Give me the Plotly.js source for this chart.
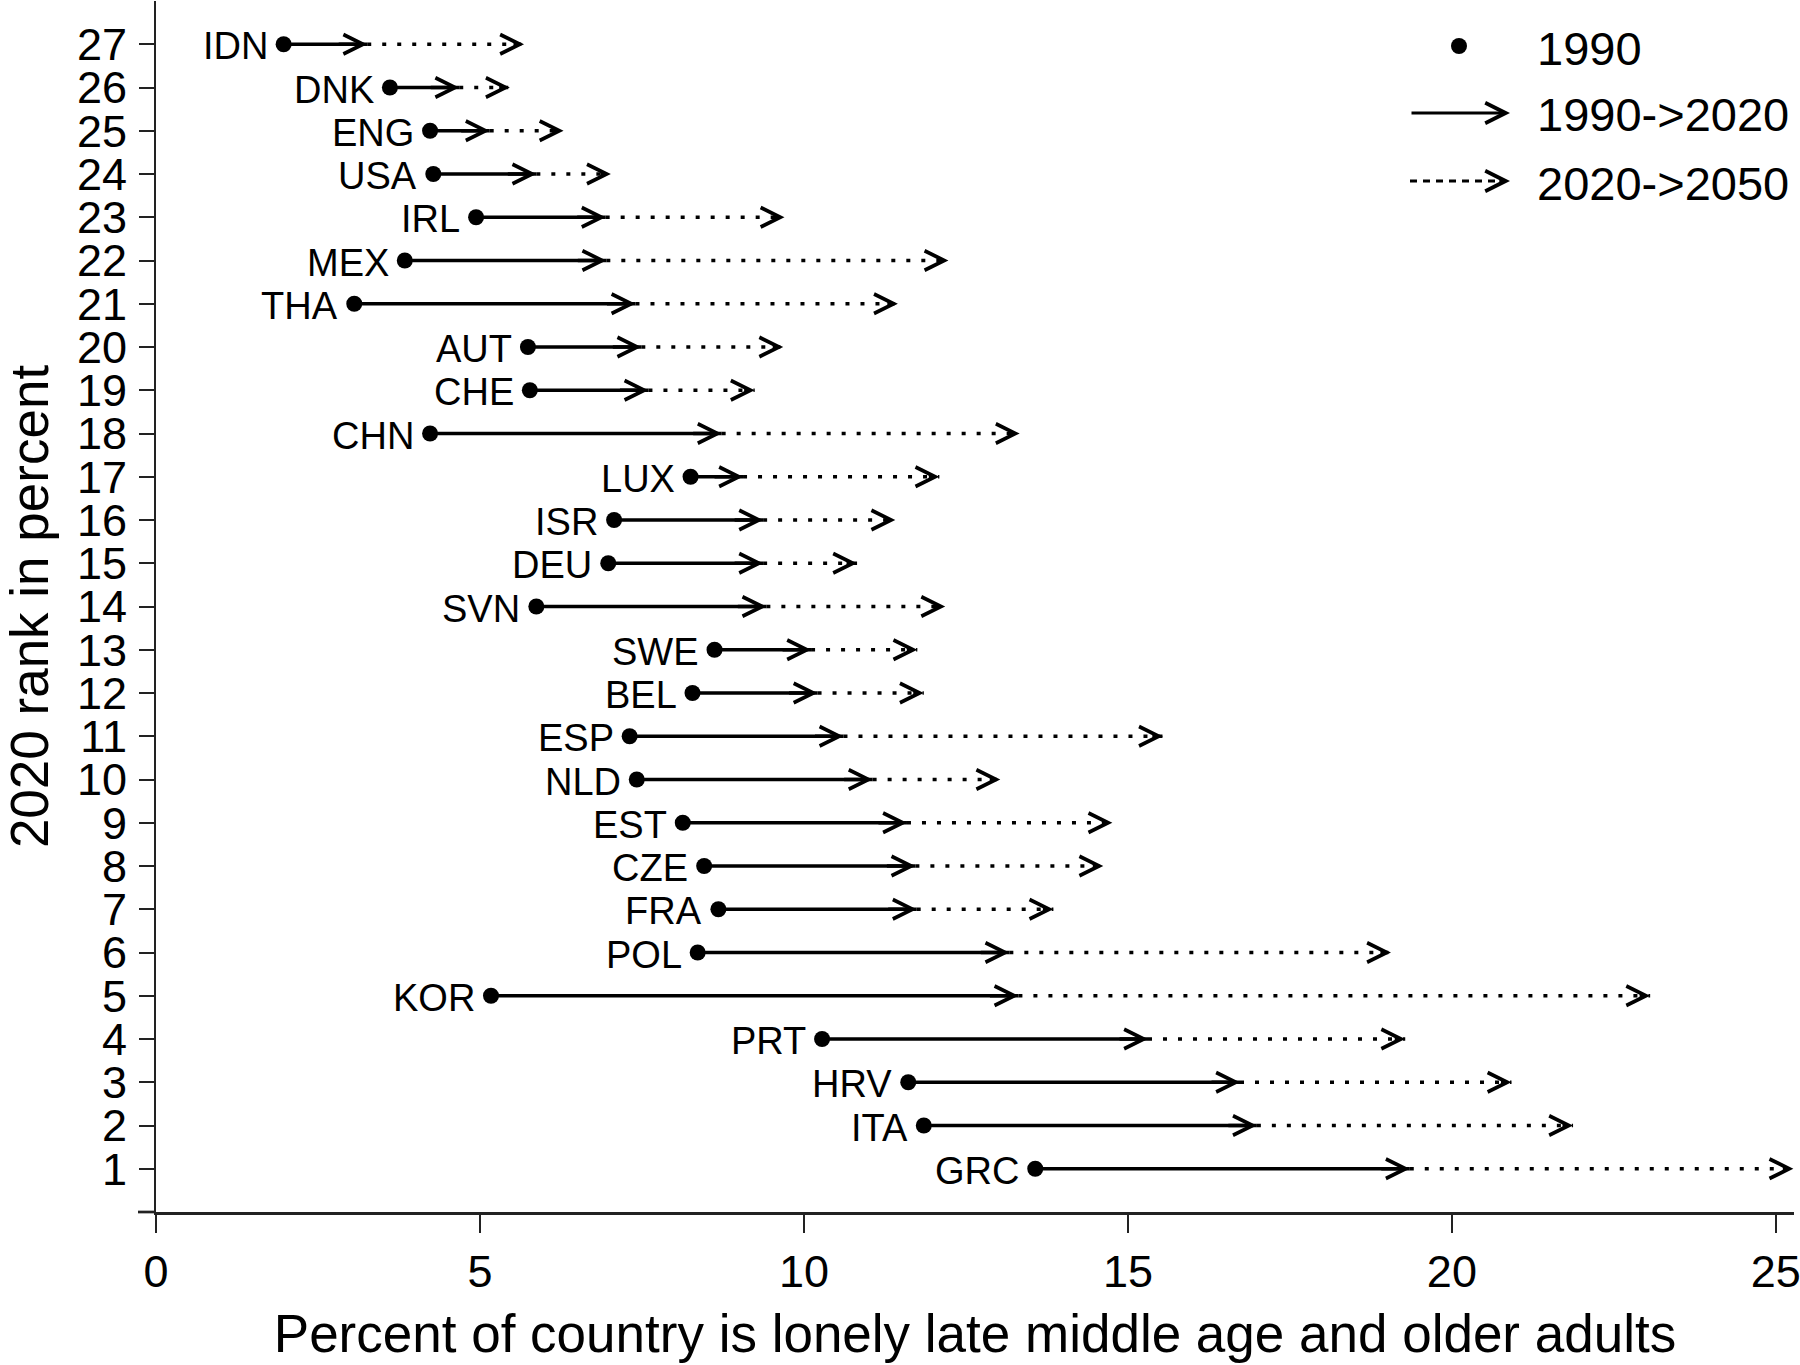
<!DOCTYPE html>
<html>
<head>
<meta charset="utf-8">
<script src="https://cdn.plot.ly/plotly-3.0.1.min.js"></script>
<style>html,body{margin:0;padding:0;background:#fff;}#chart{width:1800px;height:1365px;}</style>
</head>
<body>
<div id="chart"></div>
<script>
// ---- data (rank 27 -> 1) ----
const countries = ["IDN","DNK","ENG","USA","IRL","MEX","THA","AUT","CHE","CHN","LUX","ISR","DEU","SVN","SWE","BEL","ESP","NLD","EST","CZE","FRA","POL","KOR","PRT","HRV","ITA","GRC"];
const rank2020 = [27,26,25,24,23,22,21,20,19,18,17,16,15,14,13,12,11,10,9,8,7,6,5,4,3,2,1];
const pct1990 = [1.97,3.61,4.23,4.28,4.94,3.84,3.06,5.74,5.77,4.23,8.25,7.07,6.98,5.87,8.62,8.28,7.31,7.42,8.13,8.46,8.68,8.36,5.17,10.28,11.61,11.85,13.57];
const pct2020 = [3.26,4.68,5.15,5.87,6.94,6.95,7.40,7.49,7.60,8.73,9.06,9.37,9.37,9.42,10.11,10.21,10.61,11.06,11.59,11.72,11.74,13.17,13.31,15.31,16.73,16.99,19.35];
const pct2050 = [5.68,5.46,6.29,7.02,9.70,12.23,11.45,9.68,9.24,13.33,12.09,11.41,10.82,12.18,11.75,11.85,15.54,13.03,14.76,14.62,13.85,19.06,23.06,19.28,20.92,21.87,25.27];
const xTickVals = [0,5,10,15,20,25];
const legendLabels = ["1990","1990->2020","2020->2050"];

// ---- styling ----
const FONT = "Liberation Sans, Arial, Helvetica, sans-serif";
const L = 156, R = 6, T = 1, B = 153, W = 1800, H = 1365;
const PW = W - L - R, PH = H - T - B;
const px2paperX = p => (p - L) / PW;
const px2paperY = p => (H - B - p) / PH;

// segments built from arrays
function segs(a, b) {
  const xs = [], ys = [];
  for (let i = 0; i < a.length; i++) { xs.push(a[i], b[i], null); ys.push(rank2020[i], rank2020[i], null); }
  return {xs, ys};
}
const s1 = segs(pct1990, pct2020);
const s2 = segs(pct2020, pct2050);

const traces = [
  {x: s2.xs, y: s2.ys, mode: 'lines', line: {color: '#000', width: 3.5, dash: '4px,11px'}, hoverinfo: 'skip', name: legendLabels[2]},
  {x: s1.xs, y: s1.ys, mode: 'lines', line: {color: '#000', width: 3.5}, hoverinfo: 'skip', name: legendLabels[1]},
  {x: pct1990, y: rank2020, mode: 'markers', marker: {color: '#000', size: 16}, name: legendLabels[0], text: countries}
];

const annotations = [];
for (let i = 0; i < countries.length; i++) {
  annotations.push({x: pct1990[i], y: rank2020[i], xref: 'x', yref: 'y', text: countries[i], showarrow: false,
    xanchor: 'right', yanchor: 'middle', xshift: -14, yshift: -2, font: {family: FONT, size: 38, color: '#000'}});
  annotations.push({x: pct2020[i], y: rank2020[i], xref: 'x', yref: 'y', axref: 'pixel', ayref: 'pixel', ax: -30, ay: 0,
    text: '', showarrow: true, arrowhead: 5, arrowsize: 1.1, arrowwidth: 3.5, arrowcolor: '#000'});
  annotations.push({x: pct2050[i], y: rank2020[i], xref: 'x', yref: 'y', axref: 'pixel', ayref: 'pixel', ax: -12, ay: 0,
    text: '', showarrow: true, arrowhead: 5, arrowsize: 1.1, arrowwidth: 3.5, arrowcolor: '#000'});
}
// legend (manual, matching reference)
const legY = [46, 113, 181];
const legTextX = px2paperX(1535);
legendLabels.forEach((t, i) => {
  annotations.push({x: legTextX, y: px2paperY(legY[i]), xref: 'paper', yref: 'paper', text: t, showarrow: false,
    xanchor: 'left', yanchor: 'middle', yshift: -2, font: {family: FONT, size: 47, color: '#000'}});
});
annotations.push({x: px2paperX(1510), y: px2paperY(legY[1]), xref: 'paper', yref: 'paper', axref: 'pixel', ayref: 'pixel',
  ax: -100, ay: 0, text: '', showarrow: true, arrowhead: 5, arrowsize: 1.25, arrowwidth: 3.2, arrowcolor: '#000'});
annotations.push({x: px2paperX(1510), y: px2paperY(legY[2]), xref: 'paper', yref: 'paper', axref: 'pixel', ayref: 'pixel',
  ax: -12, ay: 0, text: '', showarrow: true, arrowhead: 5, arrowsize: 1.25, arrowwidth: 3.2, arrowcolor: '#000'});

const shapes = [
  {type: 'line', xref: 'paper', yref: 'paper', x0: -18 / PW, x1: 0, y0: 0, y1: 0, line: {color: '#222', width: 2.7}},
  {type: 'circle', xref: 'paper', yref: 'paper', xsizemode: 'pixel', ysizemode: 'pixel',
   xanchor: px2paperX(1459), yanchor: px2paperY(legY[0]), x0: -8, x1: 8, y0: -8, y1: 8,
   fillcolor: '#000', line: {color: '#000', width: 0}},
  {type: 'line', xref: 'paper', yref: 'paper', x0: px2paperX(1410), x1: px2paperX(1502), y0: px2paperY(legY[2]), y1: px2paperY(legY[2]),
   line: {color: '#000', width: 3.2, dash: '7px,6px'}}
];

const layout = {
  width: W, height: H,
  margin: {l: L, r: R, t: T, b: B, pad: 0},
  paper_bgcolor: '#fff', plot_bgcolor: '#fff',
  showlegend: false,
  font: {family: FONT, color: '#000'},
  xaxis: {
    range: [0, 25.28], tickvals: xTickVals, ticktext: xTickVals.map(String),
    showgrid: false, zeroline: false, showline: true, linecolor: '#222', linewidth: 2.7,
    ticks: 'outside', ticklen: 18, tickwidth: 2, tickcolor: '#222', ticklabelstandoff: 0,
    ticklabeloverflow: 'allow',
    tickfont: {family: FONT, size: 45, color: '#000'},
    title: {text: 'Percent of country is lonely late middle age and older adults', font: {family: FONT, size: 53, color: '#000'}, standoff: 20},
    automargin: false
  },
  yaxis: {
    range: [0, 28], tickvals: rank2020, ticktext: rank2020.map(String),
    showgrid: false, zeroline: false, showline: true, linecolor: '#222', linewidth: 2,
    ticks: 'outside', ticklen: 15, tickwidth: 2, tickcolor: '#222', ticklabelstandoff: 3,
    ticklabeloverflow: 'allow',
    tickfont: {family: FONT, size: 45, color: '#000'},
    title: {text: '2020 rank in percent', font: {family: FONT, size: 53, color: '#000'}, standoff: 35},
    automargin: false
  },
  annotations: annotations,
  shapes: shapes
};

Plotly.newPlot('chart', traces, layout, {staticPlot: true, displayModeBar: false});
</script>
</body>
</html>
